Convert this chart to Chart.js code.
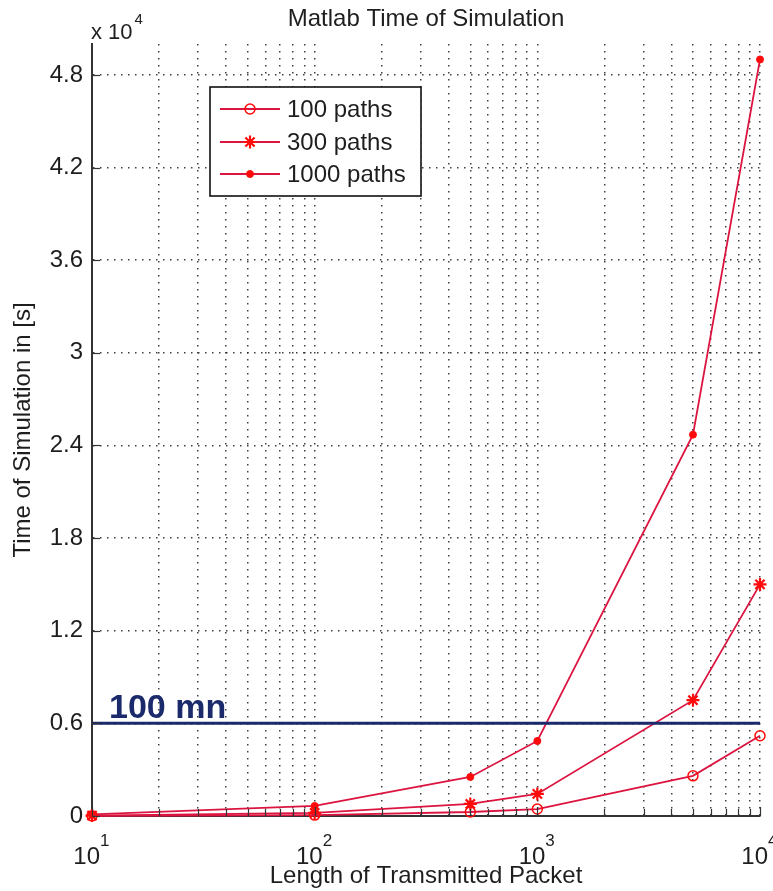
<!DOCTYPE html>
<html><head><meta charset="utf-8">
<script src="https://cdn.jsdelivr.net/npm/chart.js@4.4.1/dist/chart.umd.min.js"></script>
<style>html,body{margin:0;padding:0;background:#fff}canvas{display:block}</style>
</head><body>
<canvas id="c" width="773" height="891"></canvas>
<script>
// ---- data ----
const chartTitle = 'Matlab Time of Simulation';
const xAxisLabel = 'Length of Transmitted Packet';
const yAxisLabel = 'Time of Simulation in [s]';
const packetLengths = [10, 100, 500, 1000, 5000, 10000];
const seriesNames = ['100 paths', '300 paths', '1000 paths'];
const paths100 = [10, 60, 260, 450, 2600, 5200];
const paths300 = [30, 200, 780, 1430, 7500, 15000];
const paths1000 = [100, 650, 2530, 4860, 24700, 49000];
const thresholdValue = 6000;
const thresholdLabel = '100 mn';
const yTickValues = [0, 6000, 12000, 18000, 24000, 30000, 36000, 42000, 48000];
const yTickLabels = ['0', '0.6', '1.2', '1.8', '2.4', '3', '3.6', '4.2', '4.8'];
const yMultiplierBase = 'x 10';
const yMultiplierExp = '4';
const xTickValues = [10,20,30,40,50,60,70,80,90,100,200,300,400,500,600,700,800,900,1000,2000,3000,4000,5000,6000,7000,8000,9000,10000];
const xMajorValues = [10, 100, 1000, 10000];
const xMajorBase = '10';
const xMajorExponents = ['1', '2', '3', '4'];

const FONT = '"Liberation Sans", Arial, Helvetica, sans-serif';
const LINE_RED = '#dc1440';
const MARK_RED = '#ff0a0a';
const NAVY = '#1b2a6b';
const TXT = '#1e1e1e';

const toXY = (vals) => packetLengths.map((x, i) => ({x: x, y: vals[i]}));

const seriesStyles = [
  {pointStyle: 'circle', pointRadius: 5, pointBackgroundColor: 'rgba(0,0,0,0)', pointBorderWidth: 1.5},
  {pointStyle: 'star', pointRadius: 6.5, pointBackgroundColor: MARK_RED, pointBorderWidth: 2.2},
  {pointStyle: 'circle', pointRadius: 3.5, pointBackgroundColor: MARK_RED, pointBorderWidth: 1}
];
const seriesValues = [paths100, paths300, paths1000];

const datasets = seriesValues.map((vals, i) => Object.assign({
  label: seriesNames[i],
  data: toXY(vals),
  borderColor: LINE_RED,
  borderWidth: 1.8,
  pointBorderColor: MARK_RED,
  tension: 0,
  clip: false
}, seriesStyles[i]));

datasets.unshift({
  label: thresholdLabel,
  data: [{x: packetLengths[0], y: thresholdValue}, {x: packetLengths[packetLengths.length - 1], y: thresholdValue}],
  borderColor: NAVY,
  borderWidth: 3,
  pointRadius: 0,
  tension: 0,
  clip: false
});

const overlay = {
  id: 'overlay',
  afterDraw(chart) {
    const {ctx, chartArea: a, scales: {x, y}} = chart;
    ctx.save();
    // inward tick marks
    ctx.strokeStyle = '#333';
    ctx.lineWidth = 1.2;
    ctx.setLineDash([]);
    xTickValues.forEach(v => {
      const px = Math.round(x.getPixelForValue(v)) + 0.5;
      const len = xMajorValues.includes(v) ? 9 : 7;
      ctx.beginPath(); ctx.moveTo(px, a.bottom); ctx.lineTo(px, a.bottom - len); ctx.stroke();
    });
    yTickValues.forEach(v => {
      const py = Math.round(y.getPixelForValue(v)) + 0.5;
      ctx.beginPath(); ctx.moveTo(a.left, py); ctx.lineTo(a.left + 8, py); ctx.stroke();
    });

    // title
    ctx.fillStyle = TXT;
    ctx.font = '24px ' + FONT;
    ctx.textAlign = 'center';
    ctx.textBaseline = 'middle';
    ctx.fillText(chartTitle, (a.left + a.right) / 2, 19);

    // x tick labels with exponents
    xMajorValues.forEach((v, i) => {
      const px = x.getPixelForValue(v);
      ctx.font = '24px ' + FONT;
      ctx.textAlign = 'right';
      ctx.textBaseline = 'alphabetic';
      ctx.fillText(xMajorBase, px + 8, 864);
      ctx.font = '17px ' + FONT;
      ctx.textAlign = 'left';
      ctx.fillText(xMajorExponents[i], px + 8, 846);
    });

    // y multiplier
    ctx.font = '22px ' + FONT;
    ctx.textAlign = 'left';
    ctx.textBaseline = 'alphabetic';
    ctx.fillText(yMultiplierBase, a.left - 1, 39);
    const w = ctx.measureText(yMultiplierBase).width;
    ctx.font = '15px ' + FONT;
    ctx.fillText(yMultiplierExp, a.left - 1 + w + 2, 24);

    // threshold label
    ctx.fillStyle = NAVY;
    ctx.font = 'bold 34px ' + FONT;
    ctx.textAlign = 'left';
    ctx.textBaseline = 'alphabetic';
    ctx.fillText(thresholdLabel, x.getPixelForValue(packetLengths[0]) + 17, y.getPixelForValue(thresholdValue) - 5);

    // legend
    const lx = 210, ly = 87, lw = 211, lh = 109;
    ctx.fillStyle = '#fff';
    ctx.fillRect(lx, ly, lw, lh);
    ctx.strokeStyle = '#111';
    ctx.lineWidth = 1.6;
    ctx.strokeRect(lx, ly, lw, lh);
    const rows = [109, 142, 174];
    seriesNames.forEach((name, i) => {
      const ds = chart.data.datasets[i + 1];
      const ry = rows[i];
      ctx.strokeStyle = LINE_RED;
      ctx.lineWidth = 1.8;
      ctx.beginPath(); ctx.moveTo(220, ry); ctx.lineTo(280, ry); ctx.stroke();
      ctx.strokeStyle = ds.pointBorderColor;
      ctx.fillStyle = ds.pointBackgroundColor;
      ctx.lineWidth = ds.pointBorderWidth;
      Chart.helpers.drawPoint(ctx, {pointStyle: ds.pointStyle, radius: ds.pointRadius, rotation: 0, borderWidth: ds.pointBorderWidth}, 250, ry);
      ctx.fillStyle = TXT;
      ctx.font = '24px ' + FONT;
      ctx.textAlign = 'left';
      ctx.textBaseline = 'middle';
      ctx.fillText(name, 287, ry + 1);
    });
    ctx.restore();
  }
};

new Chart(document.getElementById('c'), {
  type: 'line',
  data: {datasets: datasets},
  plugins: [overlay],
  options: {
    responsive: false,
    animation: false,
    devicePixelRatio: 1,
    layout: {padding: {top: 44, right: 13, left: 0, bottom: 0}},
    plugins: {legend: {display: false}, title: {display: false}, tooltip: {enabled: false}},
    scales: {
      x: {
        type: 'logarithmic',
        min: 10, max: 10000,
        afterBuildTicks: s => { s.ticks = xTickValues.map(v => ({value: v})); },
        afterFit: s => { s.height = 75; },
        ticks: {display: false},
        grid: {color: 'rgba(30,30,30,0.85)', lineWidth: 1.5, drawTicks: false},
        border: {display: true, color: '#333', width: 2, dash: [1.5, 5.5]},
        title: {display: true, text: xAxisLabel, color: TXT, font: {family: FONT, size: 24}, padding: {top: 0, bottom: 0}}
      },
      y: {
        type: 'linear',
        min: 0, max: 50000,
        afterBuildTicks: s => { s.ticks = yTickValues.map(v => ({value: v})); },
        afterFit: s => { s.width = 92; },
        ticks: {
          color: TXT, padding: 9,
          font: {family: FONT, size: 24},
          callback: (v) => { const i = yTickValues.indexOf(v); return i >= 0 ? yTickLabels[i] : ''; }
        },
        grid: {color: 'rgba(30,30,30,0.85)', lineWidth: 1.5, drawTicks: false},
        border: {display: true, color: '#333', width: 2, dash: [1.5, 5.5]},
        title: {display: true, text: yAxisLabel, color: TXT, font: {family: FONT, size: 24}, padding: {top: 9, bottom: 0}}
      }
    }
  }
});
</script>
</body></html>
